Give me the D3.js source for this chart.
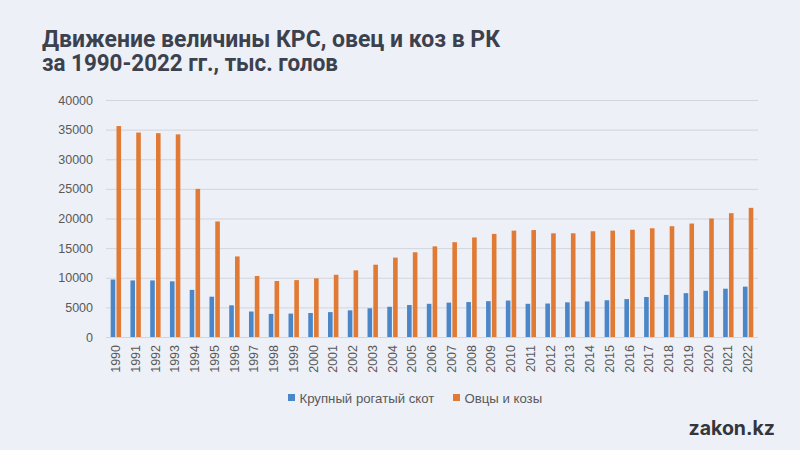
<!DOCTYPE html>
<html><head><meta charset="utf-8">
<script src="https://cdn.jsdelivr.net/npm/d3@7"></script>
<style>
html,body{margin:0;padding:0;background:#edf0f7;}
svg{display:block;}
</style></head>
<body>
<svg id="c" width="800" height="450"></svg>
<script>
const years = ["1990","1991","1992","1993","1994","1995","1996","1997","1998","1999","2000","2001","2002","2003","2004","2005","2006","2007","2008","2009","2010","2011","2012","2013","2014","2015","2016","2017","2018","2019","2020","2021","2022"];
const cattle = [9700,9550,9550,9400,7950,6800,5350,4300,3900,3950,4050,4200,4500,4850,5100,5400,5600,5800,5900,6050,6150,5600,5650,5850,6000,6200,6400,6750,7100,7400,7800,8150,8500];
const sheep = [35600,34500,34400,34200,25000,19500,13600,10300,9450,9600,9900,10500,11250,12200,13400,14300,15300,16000,16800,17400,17950,18050,17500,17500,17850,17950,18100,18350,18700,19150,20000,20900,21800];
const yTicks = [0,5000,10000,15000,20000,25000,30000,35000,40000];
const seriesNames = ["Крупный рогатый скот","Овцы и козы"];
const colors = ["#4a86c8","#e07a34"];
const title = ["Движение величины КРС, овец и коз в РК","за 1990-2022 гг., тыс. голов"];

const svg = d3.select("#c");
svg.append("rect").attr("width",800).attr("height",450).attr("fill","#edf0f7");

const titleLen = [458, 296];
title.forEach((t,i)=>{
  svg.append("text").attr("x",42).attr("y",47+i*24.3)
    .attr("font-family","Roboto").attr("font-weight",700).attr("font-size",24.5).attr("fill","#3c414e")
    .attr("textLength",titleLen[i]).attr("lengthAdjust","spacingAndGlyphs").text(t);
});

const x = d3.scaleBand().domain(years).range([106,758]);
const y = d3.scaleLinear().domain([0,40000]).range([337,100]);

svg.append("g").selectAll("line").data(yTicks).join("line")
  .attr("x1",106).attr("x2",758).attr("y1",d=>y(d)+0.5).attr("y2",d=>y(d)+0.5)
  .attr("stroke","#d2d5dc").attr("stroke-width",1);

const yAxis = d3.axisLeft(y).tickValues(yTicks).tickSize(0).tickPadding(0).tickFormat(d=>String(d));
const ya = svg.append("g").attr("transform","translate(93,0)").call(yAxis);
ya.select(".domain").remove();
ya.selectAll("text").attr("font-family","Liberation Sans").attr("font-size",12.5).attr("fill","#595959");

const bw = 4.6, gap = 1.2;
const data = years.map((yr,i)=>({yr, v:[cattle[i],sheep[i]]}));
[0,1].forEach(s=>{
  svg.append("g").selectAll("rect").data(data).join("rect")
    .attr("x",d=>x(d.yr)+x.bandwidth()/2 + (s===0 ? -bw-gap/2 : gap/2))
    .attr("width",bw)
    .attr("y",d=>y(d.v[s]))
    .attr("height",d=>y(0)-y(d.v[s]))
    .attr("fill",colors[s]);
});

const xAxis = d3.axisBottom(x).tickSize(0).tickPadding(0);
const xa = svg.append("g").attr("transform","translate(0,337)").call(xAxis);
xa.select(".domain").remove();
xa.selectAll("text").attr("font-family","Liberation Sans").attr("font-size",12.5).attr("fill","#595959")
  .attr("transform","rotate(-90)").attr("text-anchor","end").attr("dx","-8").attr("dy","0.33em").attr("x",0).attr("y",0);

const lx = [288,453];
seriesNames.forEach((n,i)=>{
  svg.append("rect").attr("x",lx[i]).attr("y",394).attr("width",7).attr("height",7).attr("fill",colors[i]);
  svg.append("text").attr("x",lx[i]+11.5).attr("y",402.5)
    .attr("font-family","Liberation Sans").attr("font-size",13.2).attr("fill","#595959").text(n);
});

svg.append("text").attr("x",775).attr("y",435).attr("text-anchor","end")
  .attr("font-family","Inter").attr("font-weight",700).attr("font-size",19.5).attr("fill","#34363d").text("zakon.kz");
</script>
</body></html>
